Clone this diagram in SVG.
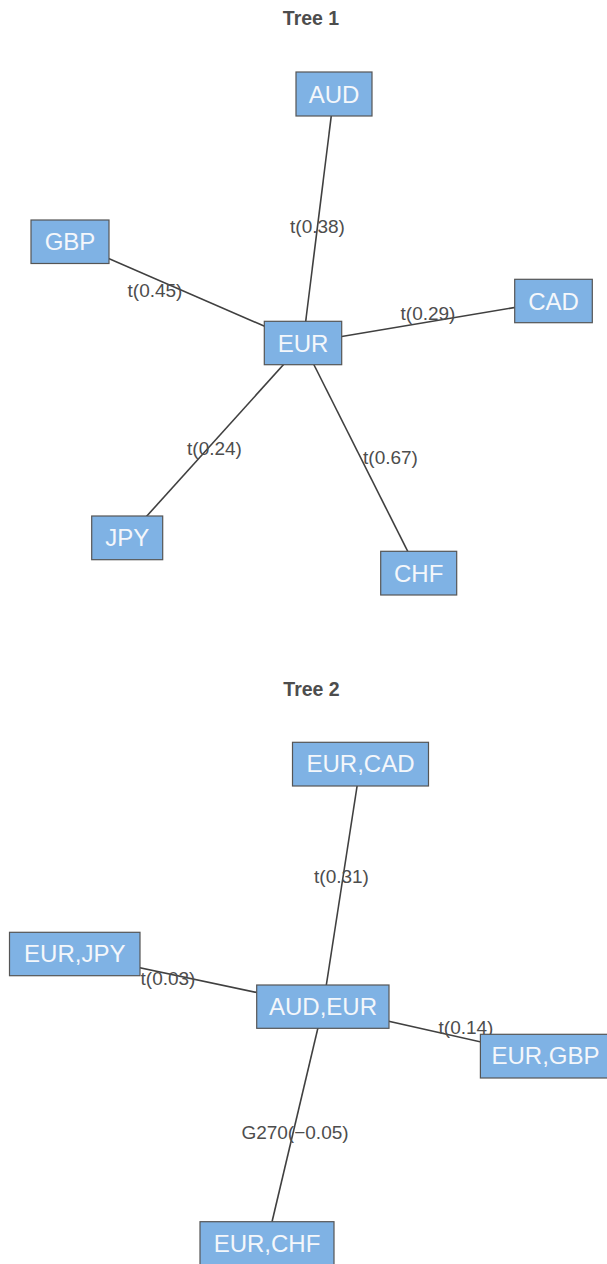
<svg xmlns="http://www.w3.org/2000/svg" width="607" height="1264" viewBox="0 0 607 1264">
  <style>
    .title { font-family: "Liberation Sans", Arial, sans-serif; font-size: 19.5px; font-weight: bold; fill: #4d4d4d; text-anchor: middle; }
    .box { fill: #7fb2e4; stroke: #555555; stroke-width: 1.2; }
    .lbl { font-family: "Liberation Sans", Arial, sans-serif; font-size: 24px; fill: #f4f7fb; text-anchor: middle; }
    .edge { stroke: #404040; stroke-width: 1.6; fill: none; }
    .elbl { font-family: "Liberation Sans", Arial, sans-serif; font-size: 19px; fill: #4d4d4d; text-anchor: middle; }
  </style>
  <rect width="607" height="1264" fill="#ffffff"/>

  <!-- Tree 1 -->
  <text class="title" x="311" y="25">Tree 1</text>
  <g id="edges-tree1">
    <line class="edge" x1="303" y1="343" x2="334" y2="94"/>
    <line class="edge" x1="303" y1="343" x2="70" y2="241.7"/>
    <line class="edge" x1="303" y1="343" x2="553.5" y2="301"/>
    <line class="edge" x1="303" y1="343" x2="127.2" y2="537.8"/>
    <line class="edge" x1="303" y1="343" x2="418.7" y2="573.2"/>
    <text class="elbl" x="317.5" y="233">t(0.38)</text>
    <text class="elbl" x="155" y="297">t(0.45)</text>
    <text class="elbl" x="428" y="320">t(0.29)</text>
    <text class="elbl" x="214.5" y="455">t(0.24)</text>
    <text class="elbl" x="390.5" y="464">t(0.67)</text>
  </g>
  <g id="node-AUD">
    <rect class="box" x="296" y="72" width="76" height="44"/>
    <text class="lbl" x="334" y="102.5">AUD</text>
  </g>
  <g id="node-GBP">
    <rect class="box" x="31" y="220" width="78" height="43.5"/>
    <text class="lbl" x="70" y="250.3">GBP</text>
  </g>
  <g id="node-EUR">
    <rect class="box" x="264.3" y="321.3" width="77.4" height="43.4"/>
    <text class="lbl" x="303" y="351.5">EUR</text>
  </g>
  <g id="node-CAD">
    <rect class="box" x="514.7" y="279.3" width="77.6" height="43.4"/>
    <text class="lbl" x="553.5" y="309.5">CAD</text>
  </g>
  <g id="node-JPY">
    <rect class="box" x="91.7" y="516" width="71" height="43.7"/>
    <text class="lbl" x="127.2" y="546.3">JPY</text>
  </g>
  <g id="node-CHF">
    <rect class="box" x="380.7" y="551.3" width="76" height="43.7"/>
    <text class="lbl" x="418.7" y="581.6">CHF</text>
  </g>

  <!-- Tree 2 -->
  <text class="title" x="311.5" y="695.5">Tree 2</text>
  <g id="edges-tree2">
    <line class="edge" x1="323" y1="1006.5" x2="360.5" y2="764"/>
    <line class="edge" x1="323" y1="1006.5" x2="75" y2="954"/>
    <line class="edge" x1="323" y1="1006.5" x2="543.5" y2="1056"/>
    <line class="edge" x1="323" y1="1006.5" x2="267" y2="1243"/>
    <text class="elbl" x="341.5" y="883">t(0.31)</text>
    <text class="elbl" x="168" y="985">t(0.03)</text>
    <text class="elbl" x="466" y="1034">t(0.14)</text>
    <text class="elbl" x="295" y="1139">G270(−0.05)</text>
  </g>
  <g id="node-EUR-CAD">
    <rect class="box" x="292.5" y="742.3" width="136" height="43.7"/>
    <text class="lbl" x="360.5" y="772.2">EUR,CAD</text>
  </g>
  <g id="node-EUR-JPY">
    <rect class="box" x="9.5" y="932.3" width="130.5" height="43.4"/>
    <text class="lbl" x="74.8" y="962.4">EUR,JPY</text>
  </g>
  <g id="node-AUD-EUR">
    <rect class="box" x="256.7" y="985" width="132.3" height="43.3"/>
    <text class="lbl" x="323" y="1015">AUD,EUR</text>
  </g>
  <g id="node-EUR-GBP">
    <rect class="box" x="480.4" y="1034.3" width="130" height="43.7"/>
    <text class="lbl" x="545.5" y="1064.4">EUR,GBP</text>
  </g>
  <g id="node-EUR-CHF">
    <rect class="box" x="200" y="1221.7" width="134" height="44"/>
    <text class="lbl" x="267" y="1251.7">EUR,CHF</text>
  </g>
</svg>
